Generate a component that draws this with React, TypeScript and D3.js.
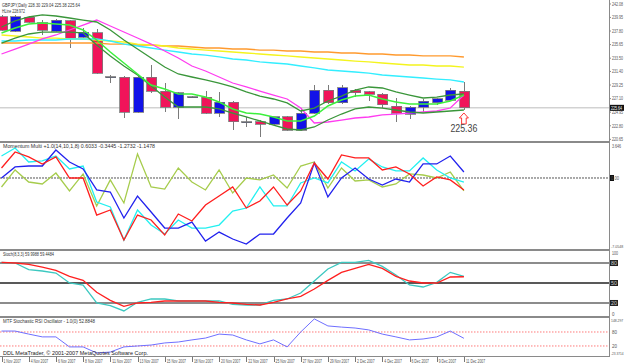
import React, { useEffect } from "react";
import * as d3 from "d3";

// bars (daily, forex week with sunday bars)
const dates = [
  "1 Nov 2007", "2 Nov 2007", "4 Nov 2007", "5 Nov 2007", "6 Nov 2007", "7 Nov 2007", "8 Nov 2007",
  "9 Nov 2007", "11 Nov 2007", "12 Nov 2007", "13 Nov 2007", "14 Nov 2007", "15 Nov 2007", "16 Nov 2007",
  "18 Nov 2007", "19 Nov 2007", "20 Nov 2007", "21 Nov 2007", "22 Nov 2007", "23 Nov 2007", "25 Nov 2007",
  "26 Nov 2007", "27 Nov 2007", "28 Nov 2007", "29 Nov 2007", "30 Nov 2007", "2 Dec 2007", "3 Dec 2007",
  "4 Dec 2007", "5 Dec 2007", "6 Dec 2007", "7 Dec 2007", "9 Dec 2007", "10 Dec 2007", "11 Dec 2007",
];

const open = [240.02, 237.8, 239.94, 239.07, 237.8, 239.39, 236.85, 237.49, 230.52, 230.52, 224.98, 230.52, 228.3, 225.77, 227.28, 227.35, 224.82, 226.56, 223.4, 223.4, 223.08, 224.19, 222.13, 224.82, 228.46, 226.41, 228.46, 228.15, 227.83, 225.93, 224.66, 225.77, 226.41, 226.88, 228.3];
const high = [240.34, 240.34, 240.18, 239.54, 239.7, 239.54, 238.28, 238.12, 230.84, 230.68, 230.68, 232.42, 229.57, 228.15, 227.51, 228.3, 228.15, 226.72, 224.19, 223.71, 224.19, 224.35, 225.61, 229.25, 229.25, 229.25, 228.62, 228.3, 227.99, 227.2, 225.93, 227.04, 227.2, 228.78, 229.73];
const low = [237.8, 237.64, 239.07, 237.17, 237.64, 235.11, 236.69, 231.0, 229.57, 224.03, 224.82, 227.99, 224.98, 223.87, 227.2, 224.66, 224.19, 222.13, 222.61, 221.02, 222.92, 221.97, 221.97, 224.66, 226.25, 226.25, 227.35, 226.72, 225.61, 223.4, 223.87, 224.98, 226.09, 226.72, 225.3];
const close = [237.96, 240.02, 239.15, 237.96, 239.54, 236.69, 237.64, 231.15, 230.56, 224.98, 230.52, 228.3, 225.77, 227.99, 227.43, 224.82, 226.56, 223.4, 223.47, 223.08, 224.19, 222.13, 224.82, 228.46, 226.41, 228.78, 227.99, 227.83, 226.09, 224.82, 225.77, 226.72, 227.04, 228.46, 225.64];

// moving averages on the price window
const maMagenta = [234.16, 234.95, 235.74, 236.54, 237.17, 237.96, 238.75, 239.54, 238.59, 237.64, 236.69, 235.74, 234.64, 233.53, 232.26, 231.47, 230.52, 229.57, 228.94, 228.3, 227.67, 227.04, 225.61, 223.24, 223.4, 223.71, 224.03, 224.19, 224.51, 224.66, 224.82, 224.98, 225.14, 225.61, 227.67];
const envUpper = [238.44, 239.39, 240.02, 240.34, 240.18, 239.86, 239.54, 239.23, 237.96, 236.38, 234.95, 233.53, 232.1, 231.0, 230.52, 230.05, 229.57, 228.94, 228.15, 227.51, 227.04, 226.41, 225.14, 225.61, 226.72, 227.51, 228.46, 228.94, 228.78, 228.15, 227.67, 227.2, 227.35, 227.67, 227.83];
const maGreen = [237.49, 238.28, 238.91, 239.07, 238.91, 238.75, 237.96, 236.38, 234.48, 232.74, 231.0, 229.25, 228.62, 227.83, 227.83, 227.35, 226.56, 225.46, 224.82, 224.66, 224.19, 223.56, 223.56, 224.35, 225.93, 226.88, 227.51, 227.67, 227.04, 226.56, 226.25, 226.25, 226.25, 226.72, 227.67];
const envLower = [235.9, 236.69, 237.33, 237.64, 237.64, 237.64, 237.49, 235.59, 233.85, 232.26, 230.84, 229.1, 227.35, 225.77, 225.77, 225.77, 225.46, 224.82, 224.19, 223.56, 222.92, 222.29, 222.13, 222.61, 223.71, 224.66, 225.46, 225.77, 225.61, 225.3, 224.98, 224.82, 224.98, 225.14, 225.3];
const maYellow = [237.17, 237.01, 236.85, 236.69, 236.69, 236.54, 236.54, 236.38, 236.22, 236.06, 235.74, 235.59, 235.43, 235.11, 234.95, 234.79, 234.64, 234.48, 234.32, 234.16, 234.0, 233.85, 233.69, 233.53, 233.37, 233.21, 233.05, 232.9, 232.74, 232.58, 232.42, 232.42, 232.26, 232.26, 232.1];
const maOrange = [235.9, 235.9, 235.9, 235.9, 235.9, 235.9, 235.9, 235.9, 235.74, 235.74, 235.59, 235.59, 235.43, 235.43, 235.27, 235.11, 235.11, 234.95, 234.95, 234.79, 234.79, 234.64, 234.64, 234.48, 234.48, 234.32, 234.32, 234.16, 234.16, 234.0, 234.0, 233.85, 233.85, 233.85, 233.69];
const maCyan = [236.22, 236.22, 236.38, 236.38, 236.38, 236.54, 236.54, 236.54, 236.22, 235.74, 235.43, 235.11, 234.79, 234.48, 234.16, 234.0, 233.69, 233.37, 233.21, 232.9, 232.74, 232.58, 232.26, 231.95, 231.63, 231.47, 231.31, 231.15, 230.84, 230.68, 230.52, 230.36, 230.2, 230.05, 229.73];

const priceTicks = [242.08, 239.95, 237.8, 235.65, 233.5, 231.4, 229.25, 227.1, 224.95, 222.8, 220.65];
const bidPrice = 225.64;
const arrowLabel = "225.36";

// momentum multi
const momBlue = [0, 1.18, 1.28, 1.28, 2.99, 1.71, 0.96, -1.28, -1.5, -4.28, -1.93, -3.64, -5.35, -5.35, -4.71, -6.74, -5.78, -6.52, -7.06, -5.99, -5.99, -4.28, -2.67, 1.6, -2.03, 0, 1.07, -0.11, -0.75, -0.11, -0.43, 1.5, 1.5, 2.35, 0.64];
const momRed = [1.07, 2.78, 2.25, 1.5, 2.25, 0, 0, -3.96, -3.42, -6.63, -3.96, -4.49, -6.1, -3.85, -4.6, -2.89, -1.93, -0.96, -3.21, -2.46, -0.96, -2.89, -1.39, 1.6, -0.11, 2.46, 2.14, 2.14, 0.86, 1.18, 0.43, -0.86, 0.11, -0.21, -1.28];
const momCyan = [2.35, 3.21, 1.71, 1.82, 2.35, 0.96, 1.28, -2.57, -3.1, -6.63, -3.42, -5.03, -5.99, -4.49, -5.35, -5.35, -5.03, -3.53, -3.21, -0.96, -2.99, -2.99, -0.53, 0, -0.53, 1.71, 0.75, 2.03, 1.18, 0.75, 0.75, 2.14, 0.86, 0, -0.43];
const momOlive = [-0.96, 0.86, -0.43, -0.64, 0.53, -1.39, 0.43, -2.99, -0.21, -2.67, 2.57, -0.96, -1.18, 1.07, -0.43, -1.28, 0.86, -1.6, 0, -0.21, 0.32, -1.07, 1.28, 1.71, -1.07, 1.07, -0.32, -0.21, -0.96, -0.64, 0.43, 0.32, 0, 0.64, -1.39];

// stochastic
const stochK = [81, 80, 70, 68, 65, 50, 47, 20, 16, 8, 21, 26, 26, 23, 23, 23, 23, 18, 17, 17, 24, 26, 35, 53, 71, 81, 81, 84, 75, 62, 47, 44, 51, 66, 60];
const stochD = [81, 80, 78, 74, 69, 60, 54, 36, 24, 15, 20, 21, 23, 23, 23, 23, 21, 20, 18, 17, 21, 26, 30, 41, 54, 66, 72, 78, 72, 60, 53, 50, 50, 59, 59.4];
const stochLevels = [80, 50, 20];

// MTF stochastic rsi
const stochRsi = [84, 84, 71, 59, 59, 16, 16, -10, -6, 16, 20, 24, 33, 37, 46, 54, 71, 67, 46, 29, 46, 16, 80, 136, 106, 101, 97, 89, 71, 59, 46, 50, 59, 84, 52.9];
const rsiLevels = [80, 20];

const W = 625;
const H = 364;
const PR = 609; // right edge of plot area
const FONT = "'Liberation Sans', Arial, sans-serif";

const x = d3.scaleLinear().domain([0, dates.length - 1]).range([1.5, 463.9]);
const yP = d3.scaleLinear().domain([220.39, 242.71]).range([141, 0]);
const yM = d3.scaleLinear().domain([-7.59, 3.74]).range([249, 143]);
const yS = d3.scaleLinear().domain([0, 100]).range([316.3, 249.7]);
const yR = d3.scaleLinear().domain([-23, 144.3]).range([356, 317]);

const path = (vals: number[], ys: d3.ScaleLinear<number, number>) =>
  d3.line<number>().x((_, i) => x(i)).y((v) => ys(v))(vals) || "";

const BULL = "#1212e8";
const BEAR = "#f0145a";
const WICK = "#7a7a7a";

const App = () => {
  useEffect(() => {
    document.body.style.margin = "0";
  }, []);

  const t = (s: string, xx: number, yy: number, len: number, size = 5, fill = "#333") => (
    <text x={xx} y={yy} fontSize={size} fill={fill} textLength={len} lengthAdjust="spacingAndGlyphs">
      {s}
    </text>
  );
  // plain text, natural width (for labels hugging the right edge)
  const tn = (s: string, xx: number, yy: number, size: number, fill = "#555") => (
    <text x={xx} y={yy} fontSize={size} fill={fill}>{s}</text>
  );

  const last = dates.length - 1;
  const ax = x(last);
  const ay = yP(low[last]) + 3;

  return (
    <svg width={W} height={H} style={{ display: "block" }} fontFamily={FONT}>
      <defs>
        <clipPath id="cp1"><rect x={0} y={0} width={PR} height={141} /></clipPath>
        <clipPath id="cp2"><rect x={0} y={143} width={PR} height={106} /></clipPath>
        <clipPath id="cp3"><rect x={0} y={251} width={PR} height={65} /></clipPath>
        <clipPath id="cp4"><rect x={0} y={318} width={PR} height={38} /></clipPath>
      </defs>
      <rect width={W} height={H} fill="#fff" />

      {/* price panel */}
      <g clipPath="url(#cp1)">
        <line x1={0} x2={PR} y1={yP(bidPrice)} y2={yP(bidPrice)} stroke="#bdbdbd" />
        {dates.map((_, i) => {
          const up = close[i] >= open[i];
          const top = yP(Math.max(open[i], close[i]));
          const bot = yP(Math.min(open[i], close[i]));
          const cx = Math.round(x(i)) + 0.5;
          return (
            <g key={i} shapeRendering="crispEdges">
              <line x1={cx} x2={cx} y1={yP(high[i])} y2={yP(low[i])} stroke={WICK} />
              <rect x={cx - 5} y={top} width={10} height={Math.max(bot - top, 1)}
                fill={Math.abs(bot - top) < 1.5 ? "#102060" : up ? BULL : BEAR} stroke={WICK} strokeWidth={0.8} />
            </g>
          );
        })}
        <path d={path(maOrange, yP)} fill="none" stroke="#ff9a2e" strokeWidth={1.3} />
        <path d={path(maYellow, yP)} fill="none" stroke="#f4f41e" strokeWidth={1.3} />
        <path d={path(maCyan, yP)} fill="none" stroke="#33eeff" strokeWidth={1.3} />
        <path d={path(maMagenta, yP)} fill="none" stroke="#ff3cf0" strokeWidth={1.3} />
        <path d={path(envUpper, yP)} fill="none" stroke="#3a963a" strokeWidth={1.3} />
        <path d={path(envLower, yP)} fill="none" stroke="#3a963a" strokeWidth={1.3} />
        <path d={path(maGreen, yP)} fill="none" stroke="#3cf03c" strokeWidth={1.5} />
      </g>
      <path
        d={`M${ax},${ay} l4.5,5 h-2.2 v6 h-4.6 v-6 h-2.2 Z`}
        fill="#fff" stroke="#ff2020" strokeWidth={0.9}
      />
      {t(arrowLabel, ax - 13.5, ay + 19.5, 27, 10.5, "#444")}
      {t("GBPJPY,Daily  228.30 229.04 225.38 225.64", 2, 6.5, 78, 5)}
      {t("HLine 228.972", 2, 12.5, 23, 5)}

      {/* momentum panel */}
      <line x1={0} x2={PR} y1={yM(0)} y2={yM(0)} stroke="#555" strokeDasharray="2,1" />
      <g clipPath="url(#cp2)" fill="none" strokeWidth={1.3}>
        <path d={path(momOlive, yM)} stroke="#a6cc4c" />
        <path d={path(momCyan, yM)} stroke="#22f0f0" />
        <path d={path(momBlue, yM)} stroke="#2222ee" />
        <path d={path(momRed, yM)} stroke="#ff1e1e" />
      </g>
      {t("Momentum Multi +1.0(14,10,1,8) 0.6033 -0.3445 -1.2732 -1.1478", 3, 147.5, 152, 5)}

      {/* stochastic panel */}
      {stochLevels.map((lv) => (
        <line key={lv} x1={0} x2={PR} y1={yS(lv)} y2={yS(lv)}
          stroke={lv === 50 ? "#222" : "#8c8c8c"} strokeWidth={lv === 50 ? 1.5 : 2} />
      ))}
      <g clipPath="url(#cp3)" fill="none" strokeWidth={1.3}>
        <path d={path(stochK, yS)} stroke="#3cc8c0" />
        <path d={path(stochD, yS)} stroke="#ff2020" />
      </g>
      {t("Stoch(8,3,3) 59.9988 59.4484", 3, 256, 51, 5)}

      {/* MTF stochastic RSI panel */}
      {rsiLevels.map((lv) => (
        <line key={lv} x1={0} x2={PR} y1={yR(lv)} y2={yR(lv)} stroke="#ff7a7a" strokeDasharray="1.5,1.5" />
      ))}
      <g clipPath="url(#cp4)" fill="none">
        <path d={path(stochRsi, yR)} stroke="#6f6fff" strokeWidth={1} />
      </g>
      {t("MTF Stochastic RSI Oscillator - 1.0(0) 52.8848", 3, 323, 92, 5)}
      {t("DDL MetaTrader, © 2001-2007 MetaQuotes Software Corp.", 3, 355, 145, 6.2, "#222")}

      {/* frame and separators */}
      <g shapeRendering="crispEdges">
        <rect x={0} y={141} width={PR} height={2} fill="#8a8a8a" />
        <rect x={0} y={249} width={PR} height={2} fill="#8a8a8a" />
        <rect x={0} y={316} width={PR} height={2} fill="#8a8a8a" />
        <line x1={0} x2={PR + 1} y1={356.5} y2={356.5} stroke="#8a8a8a" />
        <line x1={PR + 0.5} x2={PR + 0.5} y1={0} y2={357} stroke="#8a8a8a" />
      </g>

      {/* right axis: price */}
      {priceTicks.map((v) => (
        <g key={v}>
          <line x1={PR} x2={PR + 2} y1={yP(v)} y2={yP(v)} stroke="#8a8a8a" />
          {t(v.toFixed(2), PR + 3, yP(v) + 1.8, 11, 4.6, "#555")}
        </g>
      ))}
      <rect x={PR + 1} y={yP(bidPrice) - 3} width={14} height={6} fill="#111" />
      {t(bidPrice.toFixed(2), PR + 2, yP(bidPrice) + 1.8, 11, 4.6, "#fff")}

      {/* right axis: momentum */}
      {t("3.646", PR + 3, 147.5, 9, 4.6, "#555")}
      <rect x={PR + 1} y={yM(0) - 3} width={4} height={6} fill="#111" />
      {t("0.00", PR + 2, yM(0) + 1.8, 8, 4.6, "#555")}
      {tn("-7.0548", PR + 2, 247.5, 3.6)}

      {/* right axis: stochastic */}
      {t("100", PR + 3, 254.5, 6, 4.6, "#555")}
      {stochLevels.map((lv) => (
        <g key={lv}>
          <rect x={PR + 1} y={yS(lv) - 3} width={8} height={6} fill="#222" />
          {t(String(lv), PR + 2, yS(lv) + 1.8, 6, 4.6, "#ccc")}
        </g>
      ))}
      {t("0", PR + 3, 315.5, 2.5, 4.6, "#555")}

      {/* right axis: stoch rsi */}
      {tn("148.297", PR + 2, 322, 3.4)}
      {rsiLevels.map((lv) => (
        <g key={lv}>{t(String(lv), PR + 3, yR(lv) + 1.8, 5, 4.6, "#555")}</g>
      ))}
      {tn("-23.3714", PR + 2, 354.5, 3.2)}

      {/* date axis */}
      {dates.map((d, i) =>
        i % 2 === 0 ? (
          <g key={d}>
            <line x1={Math.round(x(i)) + 0.5} x2={Math.round(x(i)) + 0.5} y1={357} y2={362} stroke="#777" />
            {t(d, x(i) + 2, 362.5, d.length * 1.75, 4.6, "#555")}
          </g>
        ) : null
      )}
    </svg>
  );
};

export default App;
